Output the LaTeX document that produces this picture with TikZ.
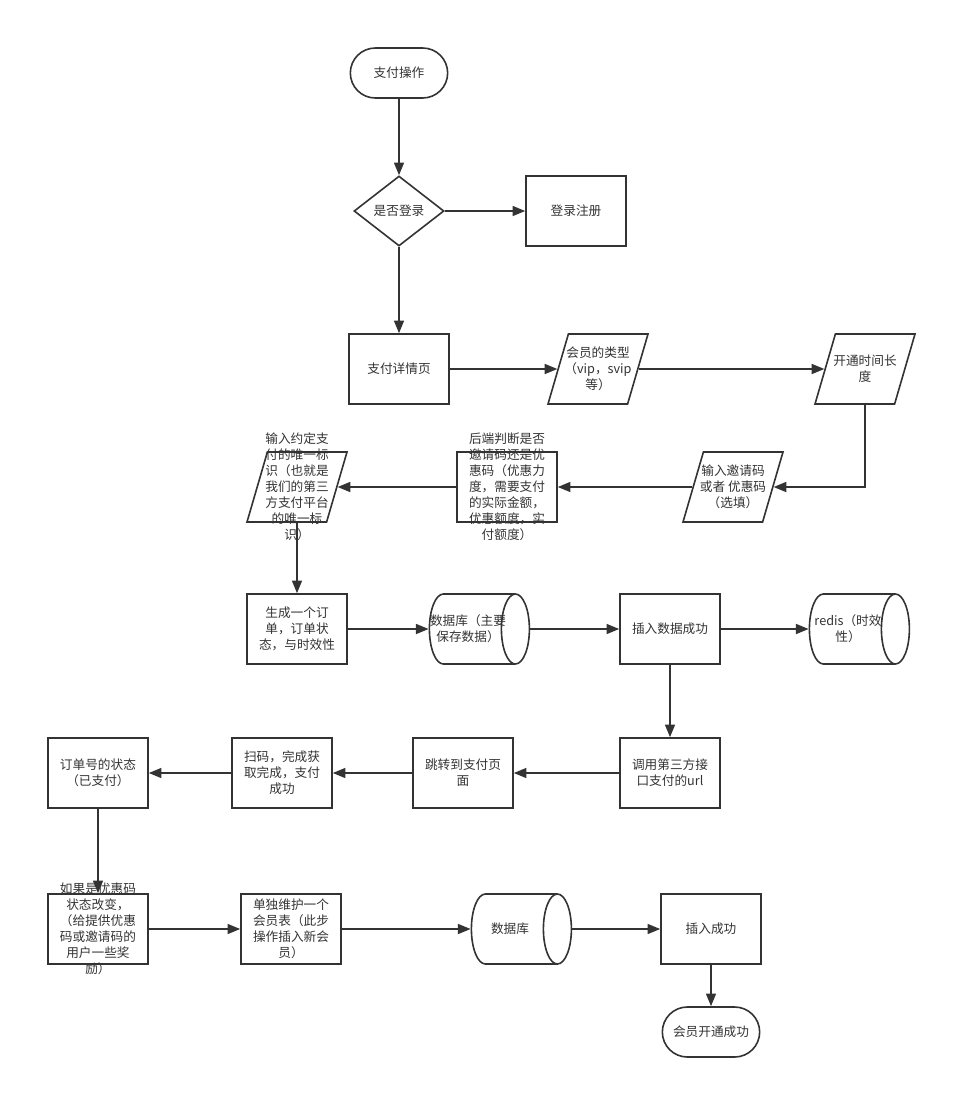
\documentclass[tikz,border=0pt]{standalone}
\usepackage{fontspec}
\setmainfont{Noto Sans CJK SC}
\usetikzlibrary{shapes.geometric, shapes.misc, arrows.meta, positioning}
\definecolor{ink}{HTML}{333333}
\tikzset{
  base/.style={draw=ink, line width=1.2pt, text=ink, align=center, font=\fontsize{9.5}{12}\selectfont, inner sep=1pt},
  box/.style={base, rectangle, minimum width=75pt, minimum height=52.5pt},
  term/.style={base, rounded rectangle, minimum width=75pt, minimum height=37.5pt},
  decide/.style={base, diamond, minimum width=67.5pt, minimum height=52.5pt, inner sep=0pt},
  para/.style={base, trapezium, trapezium left angle=71, trapezium right angle=109, trapezium stretches=true, minimum width=75pt, minimum height=52.5pt},
  store/.style={base, cylinder, shape aspect=0.4, inner sep=0pt, minimum height=75pt},
  txt/.style={text=ink, align=center, font=\fontsize{9.5}{12}\selectfont, inner sep=0pt},
  arrow/.style={-{Triangle[length=9.5pt, width=7.5pt]}, line width=1.2pt, color=ink}
}
\newcommand{\drum}{\rule{0pt}{52.5pt}}
\begin{document}
\begin{tikzpicture}[x=0.75pt, y=-0.75pt]
  \useasboundingbox (0,0) rectangle (976,1118);
  % login part
  \node[term] (start) at (399,73) {支付操作};
  \node[decide] (login) at (399,211) {是否登录};
  \node[box] (reg) at (576,211) {登录注册};
  \node[box] (detail) at (399,369) {支付详情页};
  \node[para] (vtype) at (598,369) {};
  \node[txt] (vtype-t) at (vtype) {会员的类型\\（vip，svip\\等）};
  \node[para] (period) at (865,369) {};
  \node[txt] (period-t) at (period) {开通时间长\\度};
  % code check
  \node[para] (invite) at (733,487) {};
  \node[txt] (invite-t) at (invite) {输入邀请码\\或者 优惠码\\（选填）};
  \node[box] (judge) at (507,487) {};
  \node[txt] (judge-t) at (judge) {后端判断是否\\邀请码还是优\\惠码（优惠力\\度，需要支付\\的实际金额，\\优惠额度，实\\付额度）};
  \node[para] (agree) at (297,487) {};
  \node[txt] (agree-t) at (agree) {输入约定支\\付的唯一标\\识（也就是\\我们的第三\\方支付平台\\的唯一标\\识）};
  % order
  \node[box] (order) at (297,629) {生成一个订\\单，订单状\\态，与时效性};
  \node[store] (db1) at (472,629) {\drum};
  \node[txt] (db1-t) at (468,629) {数据库（主要\\保存数据）};
  \node[box] (ins) at (670,629) {插入数据成功};
  \node[store] (redis) at (852,629) {\drum};
  \node[txt] (redis-t) at (848,629) {redis（时效\\性）};
  % payment
  \node[box] (api) at (670,773) {调用第三方接\\口支付的url};
  \node[box] (jump) at (463,773) {跳转到支付页\\面};
  \node[box] (scan) at (282,773) {扫码，完成获\\取完成，支付\\成功};
  \node[box] (state) at (98,773) {订单号的状态\\（已支付）};
  % member
  \node[box] (reward) at (98,929) {};
  \node[txt] (reward-t) at (reward) {如果是优惠码\\状态改变，\\（给提供优惠\\码或邀请码的\\用户一些奖\\励）};
  \node[box] (member) at (291,929) {单独维护一个\\会员表（此步\\操作插入新会\\员）};
  \node[store] (db2) at (514,929) {\drum};
  \node[txt] (db2-t) at (510,929) {数据库};
  \node[box] (insok) at (711,929) {插入成功};
  \node[term] (done) at (711,1032) {会员开通成功};

  \draw[arrow] (start) -- (login);
  \draw[arrow] (login) -- (reg);
  \draw[arrow] (login) -- (detail);
  \draw[arrow] (detail) -- (vtype);
  \draw[arrow] (vtype) -- (period);
  \draw[arrow] (period) |- (invite);
  \draw[arrow] (invite) -- (judge);
  \draw[arrow] (judge) -- (agree);
  \draw[arrow] (agree) -- (order);
  \draw[arrow] (order) -- (db1);
  \draw[arrow] (db1) -- (ins);
  \draw[arrow] (ins) -- (redis);
  \draw[arrow] (ins) -- (api);
  \draw[arrow] (api) -- (jump);
  \draw[arrow] (jump) -- (scan);
  \draw[arrow] (scan) -- (state);
  \draw[arrow] (state) -- (reward);
  \draw[arrow] (reward) -- (member);
  \draw[arrow] (member) -- (db2);
  \draw[arrow] (db2) -- (insok);
  \draw[arrow] (insok) -- (done);
\end{tikzpicture}
\end{document}
